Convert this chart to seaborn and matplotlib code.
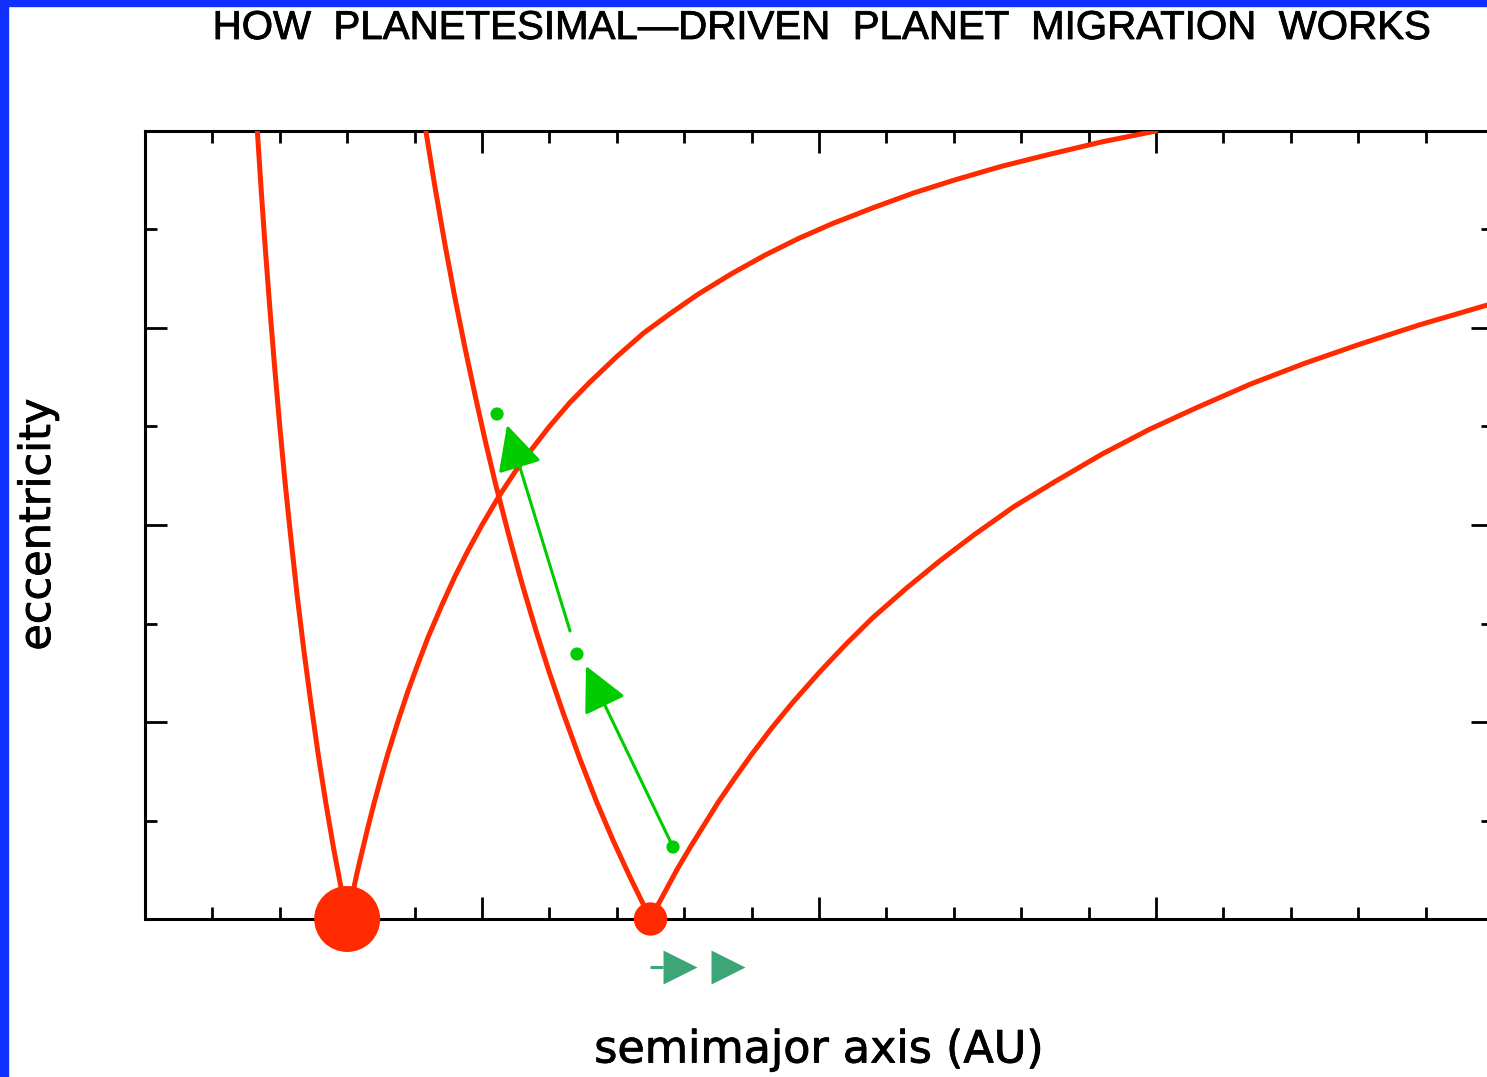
import numpy as np
import pandas as pd
import matplotlib
matplotlib.use("Agg")
import matplotlib.pyplot as plt
import matplotlib.patheffects as pe
import seaborn as sns
from matplotlib.patches import Rectangle
from matplotlib.ticker import MultipleLocator

# ---------------- data ----------------
planet_a = [3.0, 7.5]          # AU
planet_e = [0.0, 0.0]

# planet 1 (a = 3 AU): inner and outer crossing curves
a1_in = [1.667, 1.72, 1.78, 1.85, 1.92, 2.0, 2.08, 2.17, 2.26, 2.36, 2.46, 2.57,
         2.68, 2.8, 2.9, 3.0]
e1_in = [0.80, 0.744, 0.685, 0.622, 0.563, 0.50, 0.442, 0.383, 0.327, 0.271, 0.220,
         0.167, 0.119, 0.071, 0.035, 0.0]
a1_out = [3.0, 3.05, 3.1, 3.15, 3.2, 3.3, 3.4, 3.5, 3.6, 3.75, 3.9, 4.05, 4.2, 4.4,
          4.6, 4.8, 5.0, 5.25, 5.5, 5.75, 6.0, 6.3, 6.6, 7.0, 7.4, 7.8, 8.2, 8.7,
          9.2, 9.7, 10.2, 10.8, 11.4, 12.0, 12.7, 13.4, 14.2, 15.0]
e1_out = [0.0, 0.016, 0.032, 0.048, 0.0625, 0.091, 0.118, 0.143, 0.167, 0.20, 0.231,
          0.259, 0.286, 0.318, 0.348, 0.375, 0.40, 0.429, 0.455, 0.478, 0.50, 0.524,
          0.545, 0.571, 0.595, 0.615, 0.634, 0.655, 0.674, 0.691, 0.706, 0.722,
          0.737, 0.75, 0.764, 0.776, 0.789, 0.80]

# planet 2 (a = 7.5 AU)
a2_in = [4.167, 4.3, 4.45, 4.6, 4.75, 4.9, 5.05, 5.2, 5.4, 5.6, 5.8, 6.0, 6.2, 6.45,
         6.7, 6.95, 7.2, 7.5]
e2_in = [0.80, 0.744, 0.685, 0.630, 0.579, 0.531, 0.485, 0.442, 0.389, 0.339, 0.293,
         0.25, 0.210, 0.163, 0.119, 0.079, 0.042, 0.0]
a2_out = [7.5, 7.6, 7.75, 7.9, 8.1, 8.3, 8.5, 8.75, 9.0, 9.3, 9.6, 10.0, 10.4, 10.8,
          11.3, 11.8, 12.3, 12.9, 13.5, 14.2, 14.9, 15.6, 16.4, 17.2, 18.0, 18.9,
          19.8, 20.0]
e2_out = [0.0, 0.013, 0.032, 0.051, 0.074, 0.096, 0.118, 0.143, 0.167, 0.194, 0.219,
          0.25, 0.279, 0.306, 0.336, 0.364, 0.390, 0.419, 0.444, 0.472, 0.497, 0.519,
          0.543, 0.564, 0.583, 0.603, 0.621, 0.625]

# planetesimal scattering path (green arrows): tail -> tip, plus dots
arrow_tail_a = [7.834, 6.306]
arrow_tail_e = [0.0731, 0.2924]
arrow_tip_a = [6.543, 5.371]
arrow_tip_e = [0.2569, 0.5015]
dot_a = [7.834, 6.409, 5.223]
dot_e = [0.0731, 0.2690, 0.5127]

# migration direction markers below the axis
migr_a = [7.945, 8.657]
migr_line_a = [7.49, 7.69]
migr_e = -0.0487

title = "HOW  PLANETESIMAL\u2014DRIVEN  PLANET  MIGRATION  WORKS"
xlabel = "semimajor axis (AU)"
ylabel = "eccentricity"

# ---------------- figure ----------------
sns.set_theme(style="white")
W, H = 1487, 1077
fig = plt.figure(figsize=(W / 100, H / 100), dpi=100)
fig.patch.set_facecolor("white")

L, R, B, T = 145, 1493, 919, 131
ax = fig.add_axes([L / W, 1 - B / H, (R - L) / W, (B - T) / H])
ax.set_facecolor("white")
ax.set_xlim(0, 20)
ax.set_ylim(0, 0.8)

RED = "#ff2a00"
GREEN = "#00cc00"
TEAL = "#3ca678"

curves = [(a1_in, e1_in), (a1_out, e1_out), (a2_in, e2_in), (a2_out, e2_out)]
for aa, ee in curves:
    df = pd.DataFrame({"a": aa, "e": ee})
    sns.lineplot(data=df, x="a", y="e", ax=ax, color=RED, lw=3.6, sort=False,
                 estimator=None, zorder=3)

# planets
pdf = pd.DataFrame({"a": planet_a, "e": planet_e})
sns.scatterplot(data=pdf.iloc[[0]], x="a", y="e", ax=ax, s=47.5 ** 2, color=RED,
                edgecolor="none", zorder=6, clip_on=False)
sns.scatterplot(data=pdf.iloc[[1]], x="a", y="e", ax=ax, s=24 ** 2, color=RED,
                edgecolor="none", zorder=6, clip_on=False)

# green arrows
for ta, te, ha, he in zip(arrow_tail_a, arrow_tail_e, arrow_tip_a, arrow_tip_e):
    ax.annotate("", xy=(ha, he), xytext=(ta, te),
                arrowprops=dict(arrowstyle="-|>,head_length=1.4,head_width=0.7",
                                color=GREEN, lw=2.2, shrinkA=0, shrinkB=0,
                                mutation_scale=20), zorder=5)
ddf = pd.DataFrame({"a": dot_a, "e": dot_e})
sns.scatterplot(data=ddf, x="a", y="e", ax=ax, s=9.5 ** 2, color=GREEN,
                edgecolor="none", zorder=5)

# migration direction
ax.plot(migr_line_a, [migr_e, migr_e], color=TEAL, lw=2.2, clip_on=False,
        solid_capstyle="butt")
ax.plot(migr_a, [migr_e] * len(migr_a), ls="none", marker=">", ms=25,
        color=TEAL, mec="none", clip_on=False)

# axes styling
for s in ax.spines.values():
    s.set_visible(True)
    s.set_color("black")
    s.set_linewidth(2.2)
ax.xaxis.set_major_locator(MultipleLocator(5))
ax.xaxis.set_minor_locator(MultipleLocator(1))
ax.yaxis.set_major_locator(MultipleLocator(0.2))
ax.yaxis.set_minor_locator(MultipleLocator(0.1))
ax.tick_params(which="both", direction="in", top=True, right=True, bottom=True,
               left=True, labelbottom=False, labelleft=False, color="black",
               width=2.0)
ax.tick_params(which="major", length=16)
ax.tick_params(which="minor", length=8.5)
ax.set_xlabel("")
ax.set_ylabel("")

# texts (slight stroke to match the heavier original lettering)
heavy = [pe.withStroke(linewidth=0.6, foreground="black")]
fig.text(820 / W, 1 - 28 / H, title, ha="center", va="center", fontsize=29,
         family=["Liberation Sans", "DejaVu Sans"], color="black",
         path_effects=heavy)
fig.text(819 / W, 1 - 1050 / H, xlabel, ha="center", va="center", fontsize=32,
         family=["DejaVu Sans"], color="black", path_effects=heavy)
fig.text(38 / W, 1 - 525 / H, ylabel, ha="center", va="center", fontsize=31,
         rotation=90, family=["DejaVu Sans"], color="black", path_effects=heavy)

# blue frame on left and top
fig.patches.append(Rectangle((0, 0), 8 / W, 1, transform=fig.transFigure,
                             color="#1030ff", zorder=10))
fig.patches.append(Rectangle((0, 1 - 6 / H), 1, 6 / H, transform=fig.transFigure,
                             color="#1030ff", zorder=10))

fig.savefig("out.png", dpi=100, facecolor="white")
